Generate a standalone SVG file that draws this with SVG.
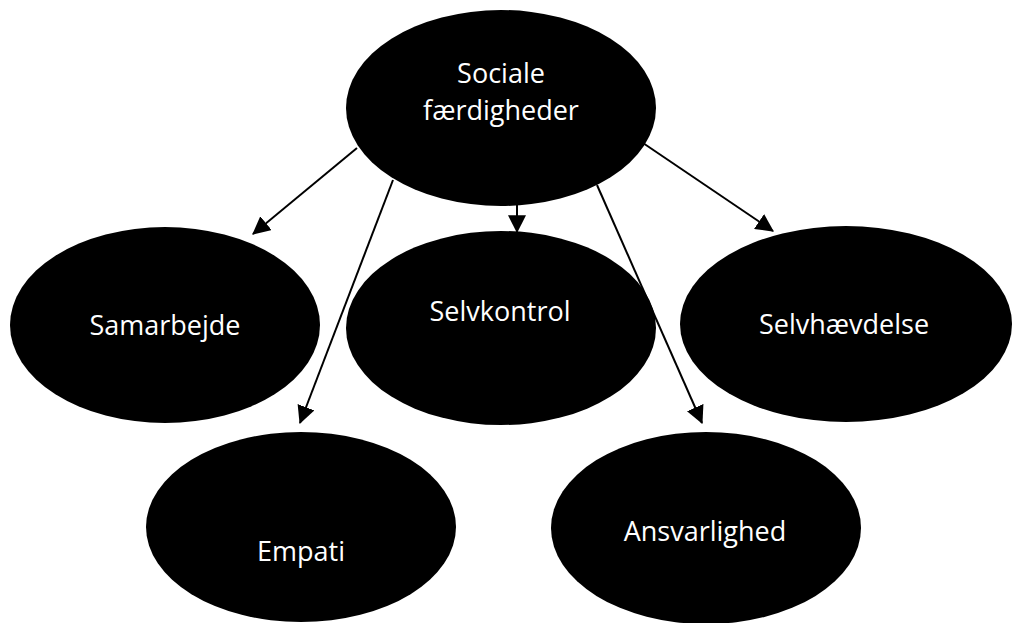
<svg xmlns="http://www.w3.org/2000/svg" width="1014" height="623" viewBox="0 0 1014 623">
<style>
.node{fill:#000;stroke:none}
.lbl{fill:#fff;font-family:"Open Sans","Noto Sans",sans-serif;font-size:27px;text-anchor:middle}
.edge{stroke:#000;stroke-width:2;fill:none;marker-end:url(#ah)}
</style>
<defs>
<marker id="ah" markerUnits="userSpaceOnUse" markerWidth="18" markerHeight="18" viewBox="0 0 16 16" refX="15" refY="8" orient="auto">
<path d="M0,0 L16,8 L0,16 Z" fill="#000"/>
</marker>
</defs>
<rect width="1014" height="623" fill="#fff"/>
<g id="n-sociale">
<ellipse class="node" cx="501" cy="108" rx="155" ry="98"/>
<text class="lbl" x="501" y="83">Sociale</text>
<text class="lbl" x="501" y="120">færdigheder</text>
</g>
<g id="n-samarbejde">
<ellipse class="node" cx="165" cy="325" rx="155" ry="98"/>
<text class="lbl" x="165" y="335">Samarbejde</text>
</g>
<g id="n-selvkontrol">
<ellipse class="node" cx="501" cy="328" rx="155" ry="97"/>
<text class="lbl" x="500" y="321">Selvkontrol</text>
</g>
<g id="n-selvhaevdelse">
<ellipse class="node" cx="846" cy="324" rx="166" ry="98"/>
<text class="lbl" x="844" y="334">Selvhævdelse</text>
</g>
<g id="n-empati">
<ellipse class="node" cx="301" cy="527" rx="155" ry="95"/>
<text class="lbl" x="301" y="561">Empati</text>
</g>
<g id="n-ansvarlighed">
<ellipse class="node" cx="706" cy="528" rx="155" ry="96"/>
<text class="lbl" x="705" y="541">Ansvarlighed</text>
</g>
<g id="connectors">
<line class="edge" x1="357" y1="148" x2="253" y2="234"/>
<line class="edge" x1="393" y1="180" x2="300" y2="423"/>
<line class="edge" x1="517" y1="205" x2="517" y2="232"/>
<line class="edge" x1="597" y1="185" x2="702" y2="423"/>
<line class="edge" x1="643" y1="143" x2="773" y2="231"/>
</g>
</svg>
